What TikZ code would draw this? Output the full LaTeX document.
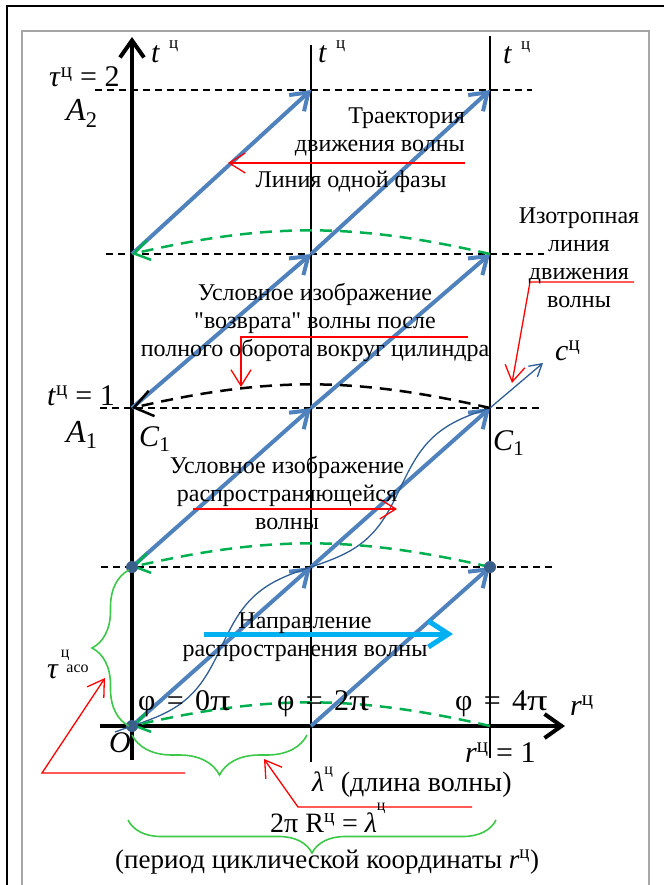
\documentclass[tikz,border=0pt]{standalone}
\usepackage{fontspec}
\setmainfont{Liberation Serif}
\newfontfamily\plainq{Liberation Serif}
\usetikzlibrary{arrows.meta,decorations.pathreplacing,calc}
\definecolor{trajblue}{HTML}{4F81BD}
\definecolor{dotblue}{HTML}{3A5F8B}
\definecolor{wavedark}{HTML}{2F5D95}
\definecolor{phasegreen}{HTML}{00B050}
\definecolor{bracegreen}{HTML}{3DC84A}
\definecolor{calloutred}{HTML}{FF0000}
\definecolor{dirblue}{HTML}{00B0F0}
\newcommand{\tcyl}{\textit{t}\hspace{9pt}\raisebox{14pt}{\fontsize{17}{17}\selectfont ц}}
\newcommand{\smallc}[1]{{\fontsize{16}{16}\selectfont #1}}
\newcommand{\wpi}{\scalebox{1.35}[1]{π}}
\newcommand{\phieq}[1]{φ\hspace{0.38em}=\hspace{0.38em}#1\wpi}

\begin{document}
\begin{tikzpicture}[x=1pt,y=-1pt,
  txt/.style={font=\fontsize{24}{28}\selectfont,inner sep=0pt,align=center},
  lbl/.style={font=\fontsize{30}{32}\selectfont,inner sep=0pt,anchor=base west},
  biglbl/.style={lbl,font=\fontsize{32}{34}\selectfont},
  level/.style={black,line width=1.5pt,dash pattern=on 7pt off 5pt},
  axis/.style={black,line width=4pt,-{Straight Barb[length=17pt,width=24pt]}},
  traj/.style={trajblue,line width=4pt,-{Straight Barb[length=16pt,width=22pt]}},
  phase/.style={phasegreen,line width=2.5pt,dash pattern=on 12pt off 8pt,-{Straight Barb[length=15pt,width=20pt]}},
  retarc/.style={black,line width=2.5pt,dash pattern=on 12pt off 8pt,-{Straight Barb[length=18pt,width=26pt]}},
  wave/.style={wavedark,line width=1.3pt,-{Straight Barb[length=12pt,width=14pt]}},
  callout/.style={calloutred,line width=1.3pt,-{Straight Barb[length=16pt,width=20pt]}},
  brc/.style={bracegreen,line width=1.6pt,decorate,decoration={brace,amplitude=#1}}
]
\useasboundingbox (0,0) rectangle (664,885);
\draw[line width=2.5pt] (7,885) -- (7,6) -- (664,6);
\draw[black!35,line width=1.5pt] (22,885) -- (22,31) -- (649,31) -- (649,885);

\foreach \c/\x in {a/132,b/311,c/490}
  \foreach \r/\y in {0/726,1/567,2/408,3/254,4/90}
    \coordinate (\c\r) at (\x,\y);

\foreach \y/\l/\r in {90/95/532,254/106/544,408/100/540,567/101/554}
  \draw[level] (\l,\y) -- (\r,\y);
\draw[line width=2pt] (311,45) -- (311,762);
\draw[line width=2pt] (490,36) -- (490,758);
\draw[axis] (132,760) -- (132,37);
\draw[axis] (100,726) -- (565,726);

\foreach \s/\e in {a0/b1,b1/c2,a1/b2,b2/c3,a2/b3,b3/c4,a3/b4,b0/c1}
  \draw[traj] (\s) -- (\e);

\coordinate (ctip) at (543,363);
\draw[wave] plot[domain=-0.035:1,samples=90,smooth]
  ({132+358*\x+10.6*sin(720*\x)},{726-318*\x+12*sin(720*\x)}) -- (ctip);

\draw[phase] (c0) to[bend right=13] (a0);
\draw[phase] (c1) to[bend right=13] (a1);
\draw[retarc] (c2) to[bend right=13] (a2);
\draw[phase] (c3) to[bend right=13] (a3);

\foreach \p in {a0,a1,c1}
  \fill[dotblue] (\p) circle (6);

\draw[brc=37pt] ($(a0)+(-3,0)$) -- ($(a1)+(-3,3)$);
\draw[brc=40pt] ($(b0)+(-4,9)$) -- ($(a0)+(0,9)$);
\draw[brc=33pt] ($(c0)+(6,94)$) -- ($(a0)+(-4,94)$);

\coordinate (phaseTail) at (465,163); \coordinate (phaseHead) at (228,163);
\coordinate (retTail) at (468,337);   \coordinate (retHead) at (241,387);
\coordinate (isoTail) at (634,282);   \coordinate (isoHead) at (512,383);
\coordinate (propTail) at (193,509);  \coordinate (propHead) at (397,509);
\coordinate (tauTail) at (185,773);   \coordinate (tauHead) at (105,678);
\coordinate (lamTail) at (472,807);   \coordinate (lamHead) at (264,759);
\coordinate (dirTail) at (204,634);   \coordinate (dirHead) at (453,634);
\draw[callout] (phaseTail) -- (phaseHead);
\draw[callout] (retTail) -| (retHead);
\draw[callout] (isoTail) -- (530,282) -- (isoHead);
\draw[callout] (propTail) -- (propHead);
\draw[callout] (tauTail) -- (42,773) -- (tauHead);
\draw[callout] (lamTail) -- (298,807) -- (lamHead);
\draw[dirblue,line width=5pt,-{Straight Barb[length=20pt,width=26pt]}] (dirTail) -- (dirHead);

\node[txt,align=right,anchor=east] (trajTxt) at (465,132) {Траектория\\движения волны};
\node[txt,anchor=base] (phaseTxt) at (351,188) {Линия одной фазы};
\node[txt] (isoTxt) at (579,258) {Изотропная\\линия\\движения\\волны};
\node[txt] (returnTxt) at (315,322) {Условное изображение\\{\plainq"}возврата{\plainq"} волны после\\полного оборота вокруг цилиндра};
\node[txt] (propTxt) at (287,493) {Условное изображение\\распространяющейся\\волны};
\node[txt] (dirTxt) at (305,637) {Направление\\распространения волны};

\node[lbl] (tLabA) at (151,63) {\tcyl};
\node[lbl] (tLabB) at (318,63) {\tcyl};
\node[lbl] (tLabC) at (503,64) {\tcyl};
\node[lbl] (tauTwo) at (49,87) {\textit{τ}\textsuperscript{ц} = 2};
\node[biglbl] (Atwo) at (66,121) {\textit{A}\textsubscript{2}};
\node[lbl] (tOne) at (47,405) {\textit{t}\textsuperscript{ц} = 1};
\node[biglbl] (Aone) at (66,442) {\textit{A}\textsubscript{1}};
\node[lbl] (ConeL) at (139,446) {\textit{C}\textsubscript{1}};
\node[lbl] (ConeR) at (493,450) {\textit{C}\textsubscript{1}};
\node[lbl] (cLab) at (555,360) {\textit{c}\textsuperscript{ц}};
\node[lbl] (phiZero) at (138,710) {\phieq{0}};
\node[lbl] (phiTwo) at (277,710) {\phieq{2}};
\node[lbl] (phiFour) at (455,710) {\phieq{4}};
\node[lbl] (rLab) at (570,715) {\textit{r}\textsuperscript{ц}};
\node[lbl] (Olab) at (109,752) {\textit{O}};
\node[lbl] (rOne) at (465,762) {\textit{r}\textsuperscript{ц} = 1};
\node[lbl] (tauAco) at (47,678) {\textit{τ}\hspace{2pt}\raisebox{21pt}{\smallc{ц}}\hspace{-3pt}\raisebox{6pt}{\smallc{асо}}};
\node[lbl,font=\fontsize{28}{30}\selectfont] (lamLab) at (312,791) {\textit{λ}\raisebox{17pt}{\smallc{ц}}\hspace{8pt}(длина волны)};
\node[lbl,font=\fontsize{28}{30}\selectfont] (periodEq) at (270,832) {2π R\textsuperscript{ц} = \textit{λ}\raisebox{22pt}{\smallc{ц}}};
\node[lbl,font=\fontsize{27}{30}\selectfont] (periodTxt) at (115,868) {(период циклической координаты \textit{r}\textsuperscript{ц})};
\end{tikzpicture}
\end{document}
